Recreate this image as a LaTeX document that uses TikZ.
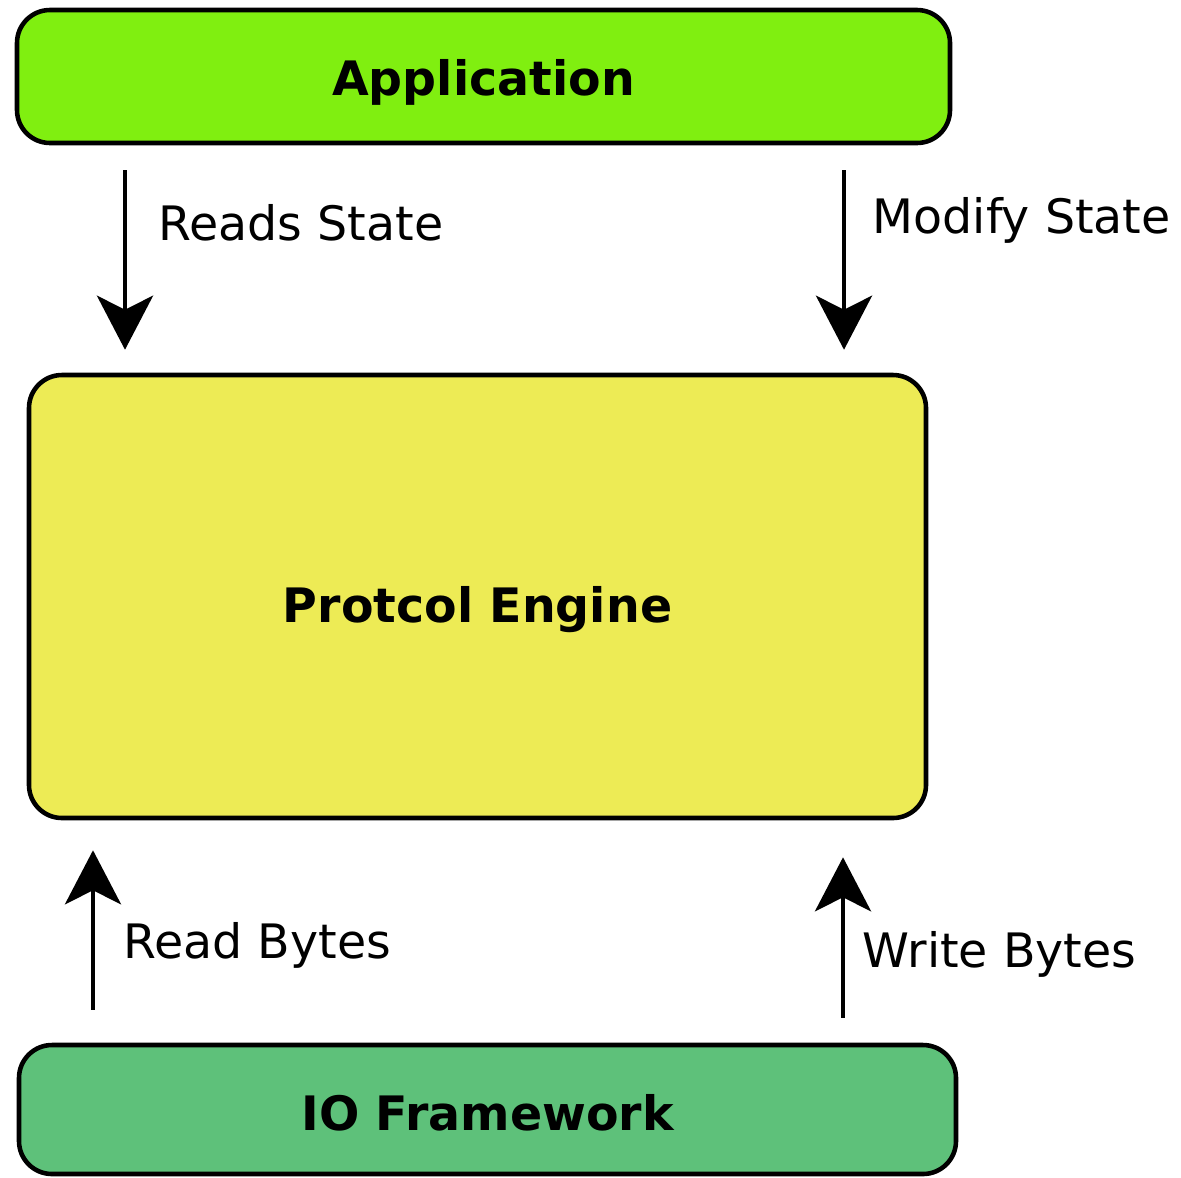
\documentclass[tikz,border=0pt]{standalone}
\usepackage{fontspec}
\setmainfont{DejaVu Sans}
\usetikzlibrary{arrows.meta,positioning,calc}
\definecolor{ink}{HTML}{000000}
\definecolor{appgreen}{HTML}{80EF10}
\definecolor{engyellow}{HTML}{EDEB55}
\definecolor{iogreen}{HTML}{5EC17A}
\tikzset{
  layer/.style={draw=ink,line width=1.3pt,rounded corners=3.3mm,inner sep=0pt,align=center,text depth=0pt,font=\fontsize{13.5}{16}\selectfont\bfseries},
  layera/.style={layer,fill=appgreen},
  layerb/.style={layer,fill=engyellow},
  layerc/.style={layer,fill=iogreen},
  lbl/.style={anchor=base west,inner sep=0pt,font=\fontsize{13.5}{16}\selectfont,text=ink},
  ar/.style={-{Stealth[length=5.4mm,width=5.6mm,inset=1.4mm]},draw=ink,line width=1.3pt},
}
\begin{document}
\begin{tikzpicture}
  \useasboundingbox (0,0) rectangle (11.81,-11.77);
  \node[layera,minimum width=9.33cm,minimum height=1.33cm,text height=3.7mm] (app) at (4.835,-0.765) {Application};
  \node[layerb,minimum width=8.97cm,minimum height=4.43cm,text height=5.1mm] (eng) at (4.775,-5.965) {Protcol Engine};
  \node[layerc,minimum width=9.37cm,minimum height=1.29cm,text height=4.1mm] (io) at (4.875,-11.095) {IO Framework};

  % arrow columns
  \coordinate (rdst) at (1.25,0);
  \coordinate (mdst) at (8.44,0);
  \coordinate (rdby) at (0.93,0);
  \coordinate (wrby) at (8.43,0);

  \draw[ar,shorten <=2.5mm,shorten >=2.3mm] (app.south -| rdst) -- (eng.north -| rdst);
  \draw[ar,shorten <=2.5mm,shorten >=2.3mm] (app.south -| mdst) -- (eng.north -| mdst);
  \draw[ar,shorten <=3.3mm,shorten >=3.0mm] (io.north -| rdby) -- (eng.south -| rdby);
  \draw[ar,shorten <=2.5mm,shorten >=3.7mm] (io.north -| wrby) -- (eng.south -| wrby);

  \node[lbl] (rdstl) at (1.58,-2.40) {Reads State};
  \node[lbl] (mdstl) at (8.72,-2.33) {Modify State};
  \node[lbl] (rdbyl) at (1.23,-9.58) {Read Bytes};
  \node[lbl] (wrbyl) at (8.62,-9.67) {Write Bytes};
\end{tikzpicture}
\end{document}
